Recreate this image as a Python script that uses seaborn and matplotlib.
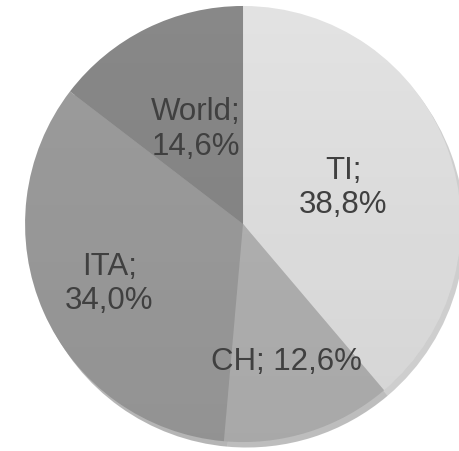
import numpy as np
import matplotlib
matplotlib.use("Agg")
import matplotlib.pyplot as plt
from matplotlib.patches import Circle
import seaborn as sns

sns.set_style("white")
plt.rcParams["font.family"] = ["Liberation Sans", "DejaVu Sans"]

# data
labels = ["TI", "CH", "ITA", "World"]
shares = [38.8, 12.6, 34.0, 14.6]
colors = ["#e2e2e2", "#b3b3b3", "#9c9c9c", "#888888"]
label_dist = [0.49, 0.66, 0.67, 0.49]

fig = plt.figure(figsize=(4.59, 4.52), dpi=100)
ax = fig.add_axes([0, 0, 1, 1])

wedges, _ = ax.pie(shares, colors=colors, startangle=90, counterclock=False,
                   radius=1.0, center=(0, 0),
                   shadow={"ox": 0.012, "oy": -0.018, "shade": 0.3},
                   wedgeprops={"linewidth": 0})

# soft top-to-bottom shading, like the office-style fill
grad = np.zeros((256, 2, 4))
grad[..., 3] = np.linspace(0.0, 0.06, 256)[:, None]
im = ax.imshow(grad, extent=(-1, 1, -1, 1), origin="upper", aspect="auto", zorder=2)
im.set_clip_path(Circle((0, 0), 1.0, transform=ax.transData))

# labels in the "Name; value%" style
for w, name, val, d in zip(wedges, labels, shares, label_dist):
    ang = np.deg2rad((w.theta1 + w.theta2) / 2)
    txt = f"{name}; {val:.1f}%".replace(".", ",")
    if name != "CH":
        txt = txt.replace("; ", ";\n")
    ax.text(d * np.cos(ang), d * np.sin(ang), txt, ha="center", va="center",
            fontsize=22.5, color="#404040", linespacing=1.2, zorder=3)

ax.set_xlim(-1.115, 0.991)
ax.set_ylim(-1.041, 1.032)
ax.set_aspect("auto")
ax.axis("off")

plt.savefig("out.png", dpi=100)
